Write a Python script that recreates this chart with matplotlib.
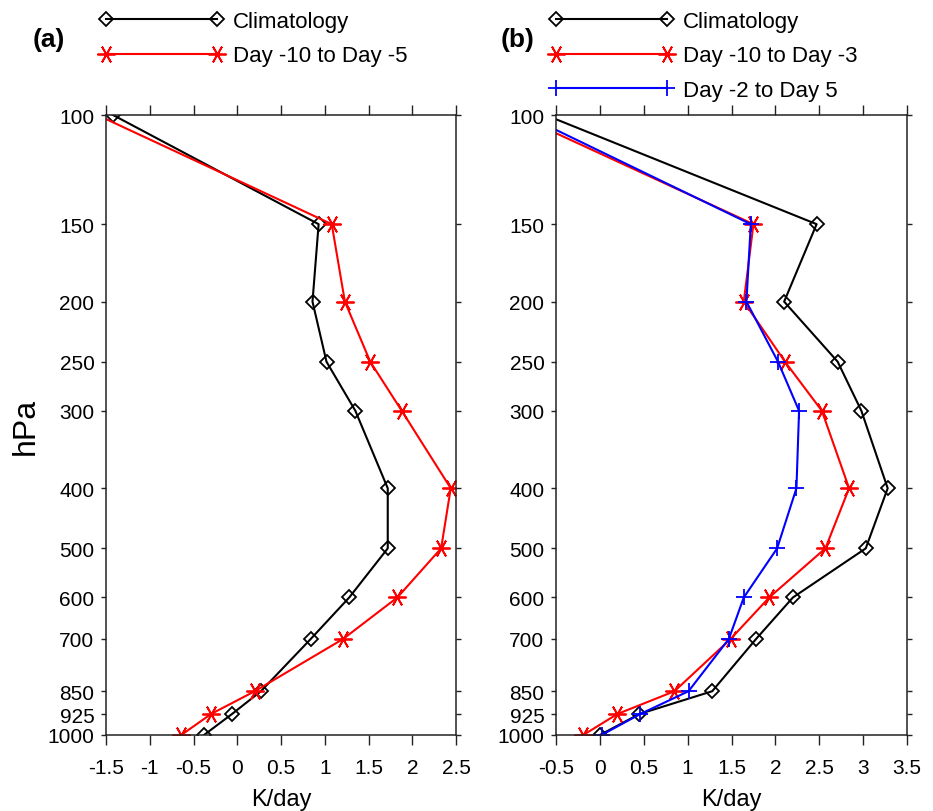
import matplotlib
matplotlib.use("Agg")
import matplotlib.pyplot as plt
from matplotlib.ticker import FixedLocator, NullLocator

plt.rcParams['font.family'] = ['Liberation Sans', 'DejaVu Sans']

levels = [100, 150, 200, 250, 300, 400, 500, 600, 700, 850, 925, 1000]

# panel (a)
clim_a = [-1.42, 0.93, 0.86, 1.02, 1.35, 1.72, 1.72, 1.28, 0.84, 0.27, -0.06, -0.38]
early_a = [-1.60, 1.08, 1.23, 1.52, 1.88, 2.44, 2.33, 1.83, 1.21, 0.20, -0.30, -0.64]

# panel (b)
clim_b = [-0.62, 2.47, 2.10, 2.71, 2.98, 3.28, 3.03, 2.20, 1.78, 1.28, 0.45, 0.00]
early_b = [-0.95, 1.75, 1.64, 2.11, 2.53, 2.84, 2.57, 1.93, 1.49, 0.85, 0.20, -0.19]
late_b = [-0.85, 1.72, 1.67, 2.03, 2.27, 2.24, 2.02, 1.64, 1.47, 1.01, 0.46, 0.02]

xticks_a = [-1.5, -1, -0.5, 0, 0.5, 1, 1.5, 2, 2.5]
xticks_b = [-0.5, 0, 0.5, 1, 1.5, 2, 2.5, 3, 3.5]

star = (6, 2, 90)
W, H = 933, 812


def style_axis(ax, xticks):
    ax.set_yscale('log')
    ax.set_ylim(1000, 100)
    ax.set_xlim(xticks[0], xticks[-1])
    ax.yaxis.set_major_locator(FixedLocator(levels))
    ax.yaxis.set_minor_locator(NullLocator())
    ax.set_yticklabels([str(v) for v in levels])
    ax.set_xticks(xticks)
    ax.set_xticklabels(['%g' % v for v in xticks])
    ax.tick_params(axis='x', direction='out', length=7.5, width=1.0,
                   top=True, labelsize=15, pad=9, color='#222222')
    ax.tick_params(axis='y', direction='out', length=3.8, width=1.0,
                   right=True, labelsize=15, pad=4.5, color='#222222')
    for s in ax.spines.values():
        s.set_linewidth(1.1)
        s.set_color('#222222')
    ax.set_xlabel('K/day', fontsize=17, labelpad=8)


def add_legend(ax, x_px):
    ax.legend(loc='upper left', bbox_to_anchor=(x_px / W, 800 / H),
              bbox_transform=ax.figure.transFigure, frameon=False,
              numpoints=2, handlelength=5.6, handletextpad=0.42,
              labelspacing=0.6, borderpad=0, borderaxespad=0, fontsize=16)


fig = plt.figure(figsize=(W / 100, H / 100), dpi=100)
ax1 = fig.add_axes([106 / W, 76 / H, 350 / W, 620 / H])
ax2 = fig.add_axes([556 / W, 76 / H, 351 / W, 620 / H])

ax1.plot(clim_a, levels, color='black', lw=1.5, marker='D', ms=7.5,
         mfc='none', mec='black', mew=1.3, label='Climatology')
ax1.plot(early_a, levels, color='red', lw=1.5, marker=star, ms=13,
         mec='red', mew=1.3, label='Day -10 to Day -5')
style_axis(ax1, xticks_a)
ax1.set_ylabel('hPa', fontsize=23, labelpad=5)
add_legend(ax1, 99.3)

ax2.plot(clim_b, levels, color='black', lw=1.5, marker='D', ms=7.5,
         mfc='none', mec='black', mew=1.3, label='Climatology')
ax2.plot(early_b, levels, color='red', lw=1.5, marker=star, ms=13,
         mec='red', mew=1.3, label='Day -10 to Day -3')
ax2.plot(late_b, levels, color='blue', lw=1.5, marker='+', ms=11,
         mec='blue', mew=1.3, label='Day -2 to Day 5')
style_axis(ax2, xticks_b)
add_legend(ax2, 549.3)

fig.text(49 / W, 1 - 40 / H, '(a)', fontsize=19, fontweight='bold',
         ha='center', va='center')
fig.text(518 / W, 1 - 40 / H, '(b)', fontsize=19, fontweight='bold',
         ha='center', va='center')

fig.savefig('out.png', dpi=100)
